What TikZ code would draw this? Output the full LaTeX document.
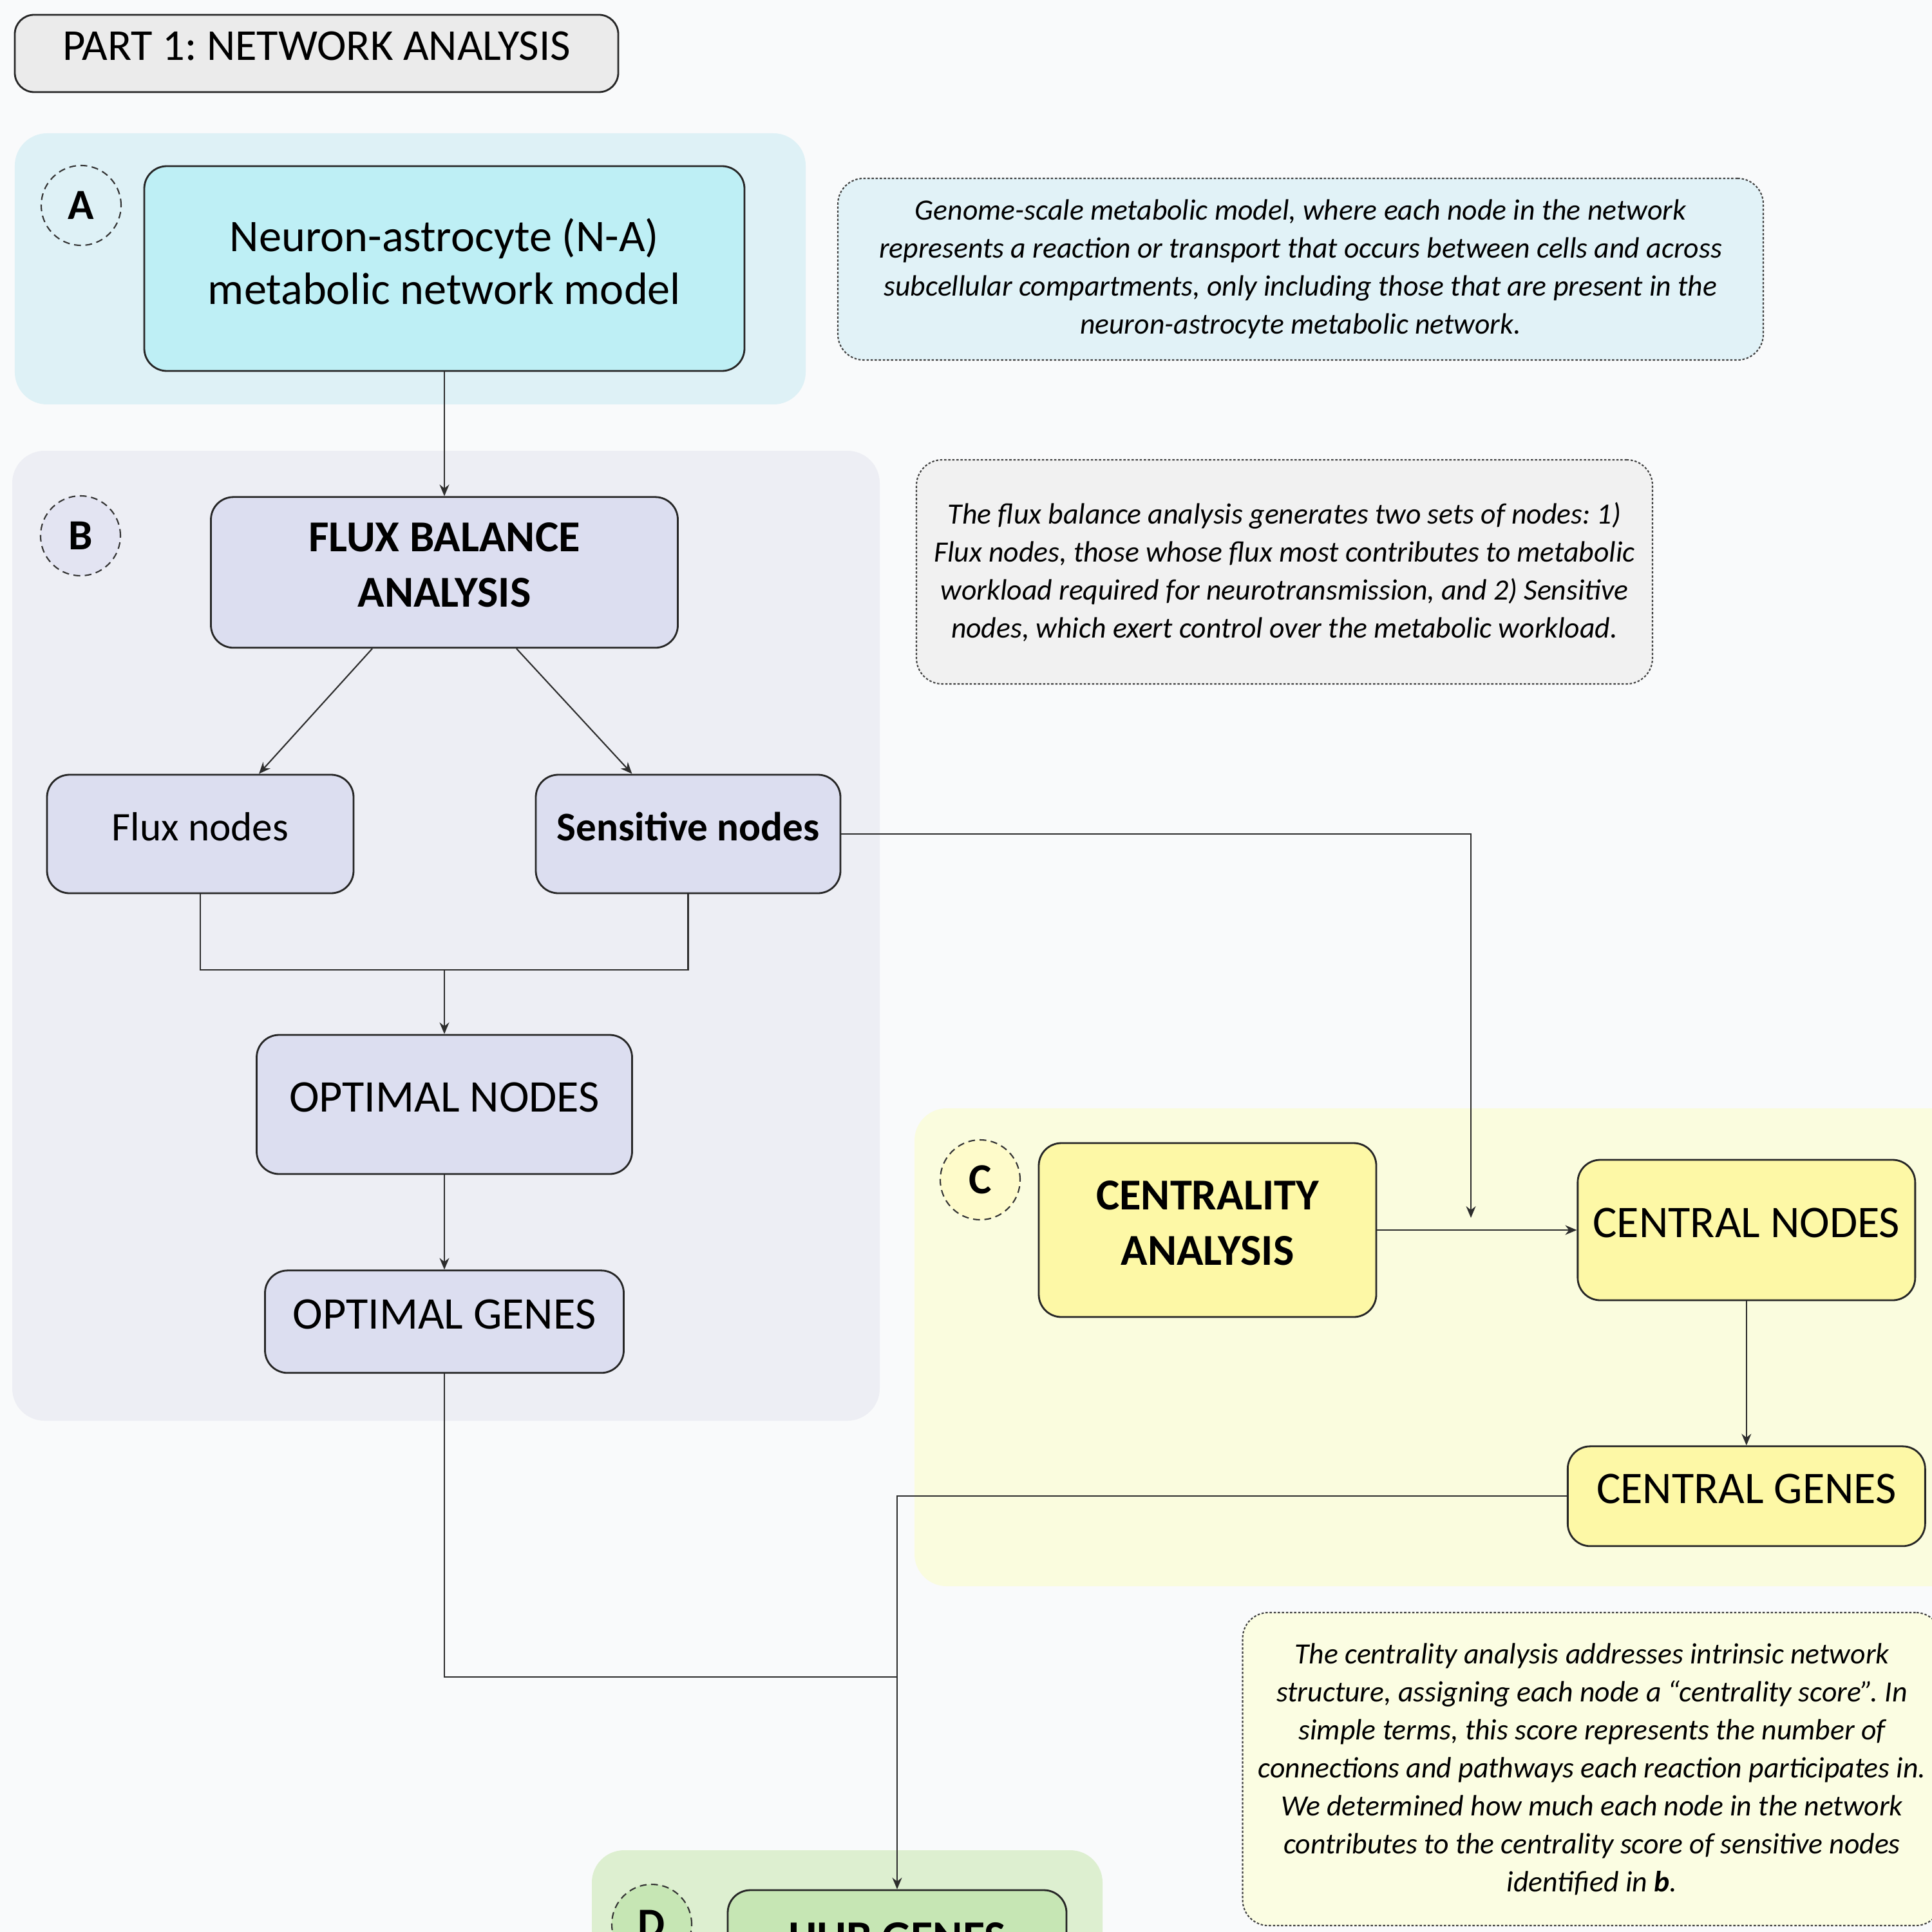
\documentclass[tikz,border=0pt]{standalone}
\usepackage{fontspec}
\setmainfont{Carlito}
\usetikzlibrary{positioning}
\usetikzlibrary{arrows.meta}
\definecolor{pagebg}{RGB}{249,250,251}
\definecolor{greybox}{RGB}{235,235,235}
\definecolor{cyanpanel}{RGB}{222,241,246}
\definecolor{cyanbox}{RGB}{190,239,245}
\definecolor{cyannote}{RGB}{225,242,247}
\definecolor{lavpanel}{RGB}{237,238,244}
\definecolor{lavbox}{RGB}{220,222,240}
\definecolor{greynote}{RGB}{241,241,241}
\definecolor{yelpanel}{RGB}{250,252,222}
\definecolor{yelbox}{RGB}{253,248,166}
\definecolor{yelnote}{RGB}{251,253,226}
\definecolor{grnpanel}{RGB}{221,239,208}
\definecolor{grnbox}{RGB}{198,230,180}
\definecolor{ink}{RGB}{45,45,45}
\tikzset{%
  flowarrow/.style = {-{Stealth[length=1.8mm,width=1.5mm]},draw=ink,line width=0.6pt},
  plainline/.style = {draw=ink,line width=0.6pt},
  box/.style = {rectangle,rounded corners=3.5mm,draw=black!85,line width=0.8pt,
        align=center,inner sep=2pt,text depth=6.5pt},
  note/.style = {rectangle,rounded corners=4mm,draw=black!75,line width=0.6pt,
        dash pattern=on 1pt off 0.8pt,align=center,
        font=\fontsize{13}{16.8}\selectfont\itshape},
  lbl/.style = {circle,draw=black!80,densely dashed,line width=0.6pt,
        minimum size=1.24cm,inner sep=0pt,font=\fontsize{19}{22}\selectfont\bfseries},
  panel/.style = {rounded corners=5mm}
}
\frenchspacing
\begin{document}
\begin{tikzpicture}[node distance=1.5cm and 3cm]
                    \clip (0,0) rectangle (30,-30);
                    \fill[pagebg] (0,0) rectangle (30,-30);
                    \fill[cyanpanel,panel] (0.23,-2.07) rectangle (12.51,-6.28);
                    \fill[lavpanel,panel] (0.19,-7.00) rectangle (13.66,-22.06);
                    \fill[yelpanel,panel] (14.20,-17.21) rectangle (30.5,-24.63);
                    \fill[grnpanel,panel] (9.19,-28.73) rectangle (17.12,-31);

                    \node[box,fill=greybox,rounded corners=3mm,minimum width=9.37cm,minimum height=1.20cm,
                          font=\fontsize{19.5}{22}\selectfont] (part) at (4.915,-0.83) {PART 1: NETWORK ANALYSIS};

                    \node[lbl,fill=cyanpanel] (la) at (1.26,-3.19) {A};
                    \node[box,fill=cyanbox,minimum width=9.32cm,minimum height=3.18cm,
                          font=\fontsize{20}{23.4}\selectfont] (model) at (6.90,-4.17) {Neuron-astrocyte (N-A)\\metabolic network model};
                    \node[note,fill=cyannote,minimum width=14.37cm,minimum height=2.82cm] (notea) at (20.195,-4.18)
                          {Genome-scale metabolic model, where each node in the network\\
                           represents a reaction or transport that occurs between cells and across\\
                           subcellular compartments, only including those that are present in the\\
                           neuron-astrocyte metabolic network.};

                    \node[lbl,fill=lavbox!60!lavpanel] (lb) at (1.25,-8.32) {B};
                    \node[box,fill=lavbox,minimum width=7.25cm,minimum height=2.34cm,
                          font=\fontsize{19.5}{24.5}\selectfont\bfseries] (fba) [below=1.93cm of model] {FLUX BALANCE\\ANALYSIS};
                    \node[note,fill=greynote,minimum width=11.43cm,minimum height=3.48cm] (noteb) at (19.945,-8.88)
                          {The flux balance analysis generates two sets of nodes: 1)\\
                           Flux nodes, those whose flux most contributes to metabolic\\
                           workload required for neurotransmission, and 2) Sensitive\\
                           nodes, which exert control over the metabolic workload.};
                    \node[box,fill=lavbox,minimum width=4.76cm,minimum height=1.84cm,
                          font=\fontsize{18}{22}\selectfont] (flux) at (3.11,-12.95) {Flux nodes};
                    \node[box,fill=lavbox,minimum width=4.73cm,minimum height=1.84cm,
                          font=\fontsize{18}{22}\selectfont\bfseries] (sens) at (10.685,-12.95) {Sensitive nodes};
                    \node[box,fill=lavbox,minimum width=5.83cm,minimum height=2.16cm,
                          font=\fontsize{20}{24}\selectfont] (optn) at (6.90,-17.15) {OPTIMAL NODES};
                    \node[box,fill=lavbox,minimum width=5.57cm,minimum height=1.59cm,
                          font=\fontsize{20}{24}\selectfont] (optg) [below=1.47cm of optn] {OPTIMAL GENES};

                    \node[lbl,fill=yelbox!60!white] (lc) at (15.22,-18.32) {C};
                    \node[box,fill=yelbox,minimum width=5.24cm,minimum height=2.70cm,
                          font=\fontsize{19.5}{24.5}\selectfont\bfseries] (centr) at (18.75,-19.10) {CENTRALITY\\ANALYSIS};
                    \node[box,fill=yelbox,minimum width=5.24cm,minimum height=2.18cm,
                          font=\fontsize{20}{24}\selectfont] (cnodes) [right=3.10cm of centr] {CENTRAL NODES};
                    \node[box,fill=yelbox,minimum width=5.55cm,minimum height=1.55cm,
                          font=\fontsize{20}{24}\selectfont] (cgenes) [below=2.24cm of cnodes] {CENTRAL GENES};
                    \node[note,fill=yelnote,minimum width=10.85cm,minimum height=4.86cm] (notec) at (24.72,-27.47)
                          {The centrality analysis addresses intrinsic network\\
                           structure, assigning each node a “centrality score”. In\\
                           simple terms, this score represents the number of\\
                           connections and pathways each reaction participates in.\\
                           We determined how much each node in the network\\
                           contributes to the centrality score of sensitive nodes\\
                           identified in \textbf{b}.};

                    \node[lbl,fill=grnbox] (ld) at (10.12,-29.88) {D};
                    \node[box,fill=grnbox,minimum width=5.26cm,minimum height=1.70cm,
                          font=\fontsize{20}{24}\selectfont\bfseries] (hub) at (13.93,-30.2) {HUB GENES};

                    \coordinate (merge) at (6.90,-15.06);
                    \coordinate (join) at (13.93,-26.04);
                    \coordinate (tipc) at (22.84,-18.91);

                    \draw[flowarrow] (model) -- (fba);
                    \draw[flowarrow] ([xshift=-1.12cm]fba.south) -- ([xshift=0.91cm]flux.north);
                    \draw[flowarrow] ([xshift=1.12cm]fba.south) -- ([xshift=-0.87cm]sens.north);
                    \draw[plainline] (flux.south) |- (merge) -| (sens.south);
                    \draw[flowarrow] (merge) -- (optn.north);
                    \draw[flowarrow] (optn) -- (optg);
                    \draw[flowarrow] (sens.east) -| (tipc);
                    \draw[flowarrow] (centr) -- (cnodes);
                    \draw[flowarrow] (cnodes) -- (cgenes);
                    \draw[plainline] (optg.south) |- (join);
                    \draw[flowarrow] (cgenes.west) -| (hub.north);
                 \end{tikzpicture}
\end{document}
